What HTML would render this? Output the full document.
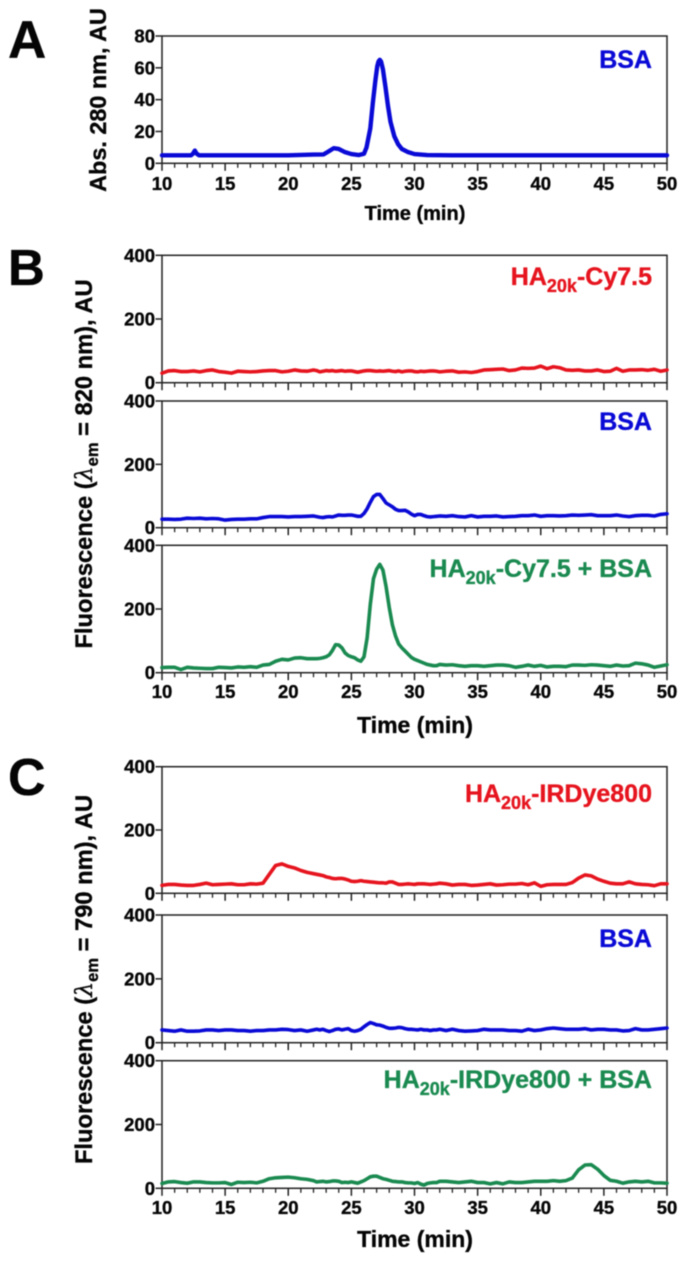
<!DOCTYPE html>
<html lang="en">
<head>
<meta charset="utf-8">
<title>Size exclusion chromatograms</title>
<style>
html,body{margin:0;padding:0;background:#fff;width:682px;height:1263px;overflow:hidden}
svg{display:block;filter:blur(0.45px)}
text{font-family:"Liberation Sans",Arial,sans-serif;font-weight:700;fill:#050505;stroke:#050505;stroke-width:0.35px}
text.blue{fill:#0a0ad6;stroke:#0a0ad6}
text.red{fill:#e6141e;stroke:#e6141e}
text.green{fill:#1a8a50;stroke:#1a8a50}
</style>
</head>
<body>
<svg id="chart" xmlns="http://www.w3.org/2000/svg" width="682" height="1263" viewBox="0 0 682 1263">
<text x="8" y="58" font-size="53">A</text>
<text x="8" y="285" font-size="51">B</text>
<text x="8" y="795" font-size="52">C</text>
<text transform="translate(106,100) rotate(-90)" text-anchor="middle" font-size="23.4">Abs. 280 nm, AU</text>
<text transform="translate(92,464) rotate(-90)" text-anchor="middle" font-size="23.7">Fluorescence (<tspan font-style="italic" font-weight="400" font-family="'DejaVu Serif',serif">λ</tspan><tspan font-size="16.5" dy="6">em</tspan><tspan dy="-6"> = 820 nm), AU</tspan></text>
<text transform="translate(92,979.5) rotate(-90)" text-anchor="middle" font-size="23.7">Fluorescence (<tspan font-style="italic" font-weight="400" font-family="'DejaVu Serif',serif">λ</tspan><tspan font-size="16.5" dy="6">em</tspan><tspan dy="-6"> = 790 nm), AU</tspan></text>
<text x="415" y="220" text-anchor="middle" font-size="20">Time (min)</text>
<text x="415" y="733" text-anchor="middle" font-size="23">Time (min)</text>
<text x="415" y="1247" text-anchor="middle" font-size="23">Time (min)</text>
<text x="652" y="68" text-anchor="end" font-size="25" class="blue">BSA</text>
<text x="652" y="285" text-anchor="end" font-size="25" class="red">HA<tspan font-size="18" dy="7">20k</tspan><tspan dy="-7">-Cy7.5</tspan></text>
<text x="652" y="430" text-anchor="end" font-size="25" class="blue">BSA</text>
<text x="652" y="577" text-anchor="end" font-size="25" class="green">HA<tspan font-size="18" dy="7">20k</tspan><tspan dy="-7">-Cy7.5 + BSA</tspan></text>
<text x="652" y="802" text-anchor="end" font-size="25" class="red">HA<tspan font-size="18" dy="7">20k</tspan><tspan dy="-7">-IRDye800</tspan></text>
<text x="652" y="947" text-anchor="end" font-size="25" class="blue">BSA</text>
<text x="652" y="1088" text-anchor="end" font-size="25" class="green">HA<tspan font-size="18" dy="7">20k</tspan><tspan dy="-7">-IRDye800 + BSA</tspan></text>
</svg>
<script>
const xTickLabels = [10, 15, 20, 25, 30, 35, 40, 45, 50];
const xMinorTicks = [11, 12, 13, 14, 16, 17, 18, 19, 21, 22, 23, 24, 26, 27, 28, 29, 31, 32, 33, 34, 36, 37, 38, 39, 41, 42, 43, 44, 46, 47, 48, 49];
const yTicksAbs = [0, 20, 40, 60, 80];
const yTicksFluor = [0, 200, 400];

const timesAbs = [10, 12.3, 12.45, 12.6, 12.75, 12.95, 20, 22, 22.8, 23.2, 23.6, 24, 24.5, 25, 25.6, 26, 26.2, 26.5, 26.7, 26.9, 27.05, 27.15, 27.25, 27.35, 27.5, 27.7, 27.9, 28.1, 28.4, 28.7, 29, 29.5, 30, 31, 33, 50];
const absBsa = [5, 5, 6, 8, 6, 5, 5, 5.5, 5.6, 7.5, 9.5, 9, 7, 5.8, 5.2, 6, 10, 22, 38, 52, 61, 64, 65, 64, 59, 48, 36, 26, 17, 12, 9, 7, 5.8, 5.2, 5, 5];

const times = [10, 10.5, 11, 11.5, 12, 12.5, 13, 13.5, 14, 14.5, 15, 15.5, 16, 16.5, 17, 17.5, 18, 18.5, 19, 19.5, 20, 20.5, 21, 21.5,
  22, 22.25, 22.5, 22.75, 23, 23.25, 23.5, 23.75, 24, 24.25, 24.5, 24.75, 25, 25.25, 25.5, 25.75,
  26, 26.25, 26.5, 26.75, 27, 27.25, 27.5, 27.75, 28, 28.25, 28.5, 28.75, 29, 29.25, 29.5, 29.75, 30, 30.25, 30.5, 30.75, 31, 31.25, 31.5, 31.75, 32,
  32.5, 33, 33.5, 34, 34.5, 35, 35.5, 36, 36.5, 37, 37.5, 38, 38.5, 39, 39.5, 40, 40.5, 41, 41.5, 42, 42.5, 43, 43.5, 44, 44.5, 45, 45.5, 46, 46.5, 47, 47.5, 48, 48.5, 49, 49.5, 50];

const cy75Red = [30, 37, 38, 35, 35, 37, 34, 38, 40, 35, 33, 30, 36, 35, 34, 35, 37, 38, 38, 34, 36, 40, 37, 36,
  40, 38, 34, 36, 38, 37, 38, 36, 37, 38, 36, 37, 37, 35, 33, 35, 37, 38, 38, 37, 36, 37, 36, 37, 38, 36, 35, 37, 34, 36, 37, 37, 35, 34, 36, 35, 36, 37, 37, 36, 34,
  36, 37, 33, 34, 32, 35, 40, 41, 42, 43, 38, 40, 46, 45, 46, 52, 44, 50, 47, 40, 39, 40, 37, 37, 40, 35, 36, 45, 36, 40, 40, 41, 39, 42, 36, 40];
const cy75Blue = [27, 27, 26, 27, 30, 29, 30, 28, 29, 28, 24, 26, 27, 27, 28, 28, 32, 35, 35, 35, 34, 35, 35, 36,
  37, 35, 33, 32, 34, 35, 34, 37, 40, 39, 39, 40, 40, 38, 36, 36,
  45, 60, 80, 98, 105, 105, 92, 78, 72, 66, 58, 54, 54, 55, 50, 43, 38, 42, 42, 38, 35, 34, 35, 36, 37,
  36, 38, 35, 34, 38, 34, 36, 36, 37, 34, 35, 36, 38, 38, 40, 36, 38, 38, 37, 38, 40, 39, 40, 41, 38, 38, 38, 40, 37, 35, 38, 39, 39, 37, 42, 44];
const cy75Green = [16, 17, 17, 10, 17, 15, 14, 13, 13, 17, 16, 15, 18, 17, 19, 17, 24, 26, 36, 42, 40, 46, 47, 44,
  44, 44, 45, 47, 50, 56, 70, 88, 87, 78, 62, 54, 50, 47, 40, 36,
  50, 110, 215, 295, 325, 340, 322, 270, 205, 150, 115, 90, 78, 68, 58, 48, 42, 38, 34, 30, 26, 24, 22, 22, 26,
  24, 25, 22, 20, 22, 22, 20, 22, 24, 24, 22, 17, 20, 24, 20, 23, 18, 20, 20, 19, 24, 24, 23, 25, 24, 22, 20, 24, 21, 22, 30, 28, 24, 17, 21, 25];
const irRed = [25, 28, 28, 26, 25, 25, 28, 32, 27, 28, 29, 30, 27, 27, 30, 29, 32, 60, 88, 93, 85, 80, 72, 66,
  62, 60, 58, 56, 52, 50, 47, 46, 47, 47, 45, 42, 38, 37, 38, 40, 38, 37, 36, 35, 34, 33, 33, 32, 36, 36, 32, 28, 28, 29, 30, 29, 28, 30, 30, 30, 29, 28, 29, 30, 32,
  30, 26, 28, 28, 25, 26, 28, 30, 26, 27, 29, 29, 31, 27, 33, 22, 27, 28, 28, 28, 34, 48, 58, 55, 45, 38, 32, 30, 30, 36, 30, 28, 27, 24, 30, 30];
const irBlue = [40, 38, 36, 40, 36, 36, 37, 40, 40, 38, 40, 40, 38, 38, 36, 38, 38, 40, 40, 42, 41, 38, 40, 36,
  40, 42, 40, 42, 38, 35, 38, 42, 43, 40, 42, 44, 38, 36, 38, 42,
  50, 57, 63, 60, 56, 55, 52, 48, 45, 45, 46, 48, 47, 44, 42, 42, 41, 40, 42, 40, 40, 38, 40, 40, 42,
  38, 42, 38, 36, 37, 38, 42, 40, 40, 40, 38, 38, 36, 42, 38, 40, 44, 46, 44, 42, 42, 42, 44, 40, 42, 42, 40, 40, 37, 38, 44, 40, 40, 42, 44, 46];
const irGreen = [15, 20, 21, 18, 16, 20, 20, 18, 17, 17, 18, 12, 19, 18, 19, 17, 22, 30, 33, 34, 35, 33, 30, 28,
  24, 20, 21, 22, 20, 21, 23, 23, 22, 18, 19, 18, 20, 18, 16, 20,
  24, 30, 36, 38, 38, 34, 30, 28, 25, 22, 21, 20, 20, 18, 17, 17, 15, 18, 13, 10, 15, 17, 18, 18, 22,
  22, 20, 18, 20, 22, 18, 18, 14, 18, 14, 20, 18, 18, 20, 22, 22, 22, 24, 22, 24, 32, 58, 73, 74, 60, 40, 25, 22, 16, 20, 22, 20, 22, 17, 17, 16];

const svg = document.getElementById('chart');
const NS = 'http://www.w3.org/2000/svg';
const X0 = 162, X1 = 667;

function xScale(t) { return X0 + (t - 10) * (X1 - X0) / 40; }

function line(x1, y1, x2, y2, w) {
  const el = document.createElementNS(NS, 'line');
  el.setAttribute('x1', x1);
  el.setAttribute('y1', y1);
  el.setAttribute('x2', x2);
  el.setAttribute('y2', y2);
  el.setAttribute('stroke', '#222');
  el.setAttribute('stroke-width', w);
  svg.appendChild(el);
  return el;
}

function label(x, y, anchor, str) {
  const el = document.createElementNS(NS, 'text');
  el.setAttribute('x', x);
  el.setAttribute('y', y);
  el.setAttribute('text-anchor', anchor);
  el.setAttribute('font-size', '18.5');
  el.textContent = str;
  svg.appendChild(el);
  return el;
}

function drawPanel(id, top, bottom, yMax, yTicks, ts, vs, color, width, showX, xBase) {
  const yScale = v => bottom - v * (bottom - top) / yMax;

  const frame = document.createElementNS(NS, 'rect');
  frame.setAttribute('x', X0);
  frame.setAttribute('y', top);
  frame.setAttribute('width', X1 - X0);
  frame.setAttribute('height', bottom - top);
  frame.setAttribute('fill', 'none');
  frame.setAttribute('stroke', '#222');
  frame.setAttribute('stroke-width', '1.5');
  
  
  svg.appendChild(frame);

  xTickLabels.forEach(t => {
    const tick = line(xScale(t), bottom, xScale(t), bottom + 7.5, 1.5);
    
    
    if (showX) {
      const txt = label(xScale(t), xBase, 'middle', String(t));
      
      
    }
  });
  xMinorTicks.forEach(t => {
    const tick = line(xScale(t), bottom, xScale(t), bottom + 4.5, 1.3);
    
    
  });
  yTicks.forEach(v => {
    const tick = line(X0 - 6.5, yScale(v), X0, yScale(v), 1.5);
    
    
    const txt = label(155, yScale(v) + 6.5, 'end', String(v));
    
    
  });

  const path = document.createElementNS(NS, 'polyline');
  path.setAttribute('points', ts.map((t, i) => xScale(t).toFixed(2) + ',' + yScale(vs[i]).toFixed(2)).join(' '));
  path.setAttribute('fill', 'none');
  path.setAttribute('stroke', color);
  path.setAttribute('stroke-width', width);
  path.setAttribute('stroke-linejoin', 'round');
  path.setAttribute('stroke-linecap', 'round');
  
  
  svg.appendChild(path);
}

const BLUE = '#0a0ad6', RED = '#e6141e', GREEN = '#1a8a50';
drawPanel('a', 36, 163.3, 80, yTicksAbs, timesAbs, absBsa, BLUE, 4.4, true, 190);
drawPanel('b1', 255.3, 382.7, 400, yTicksFluor, times, cy75Red, RED, 3.6, false, 0);
drawPanel('b2', 401, 527.7, 400, yTicksFluor, times, cy75Blue, BLUE, 3.6, false, 0);
drawPanel('b3', 545.3, 672.7, 400, yTicksFluor, times, cy75Green, GREEN, 3.6, true, 698);
drawPanel('c1', 766.7, 893.3, 400, yTicksFluor, times, irRed, RED, 3.6, false, 0);
drawPanel('c2', 915, 1042.7, 400, yTicksFluor, times, irBlue, BLUE, 3.6, false, 0);
drawPanel('c3', 1060.7, 1188.3, 400, yTicksFluor, times, irGreen, GREEN, 3.6, true, 1214);
</script>
</body>
</html>
